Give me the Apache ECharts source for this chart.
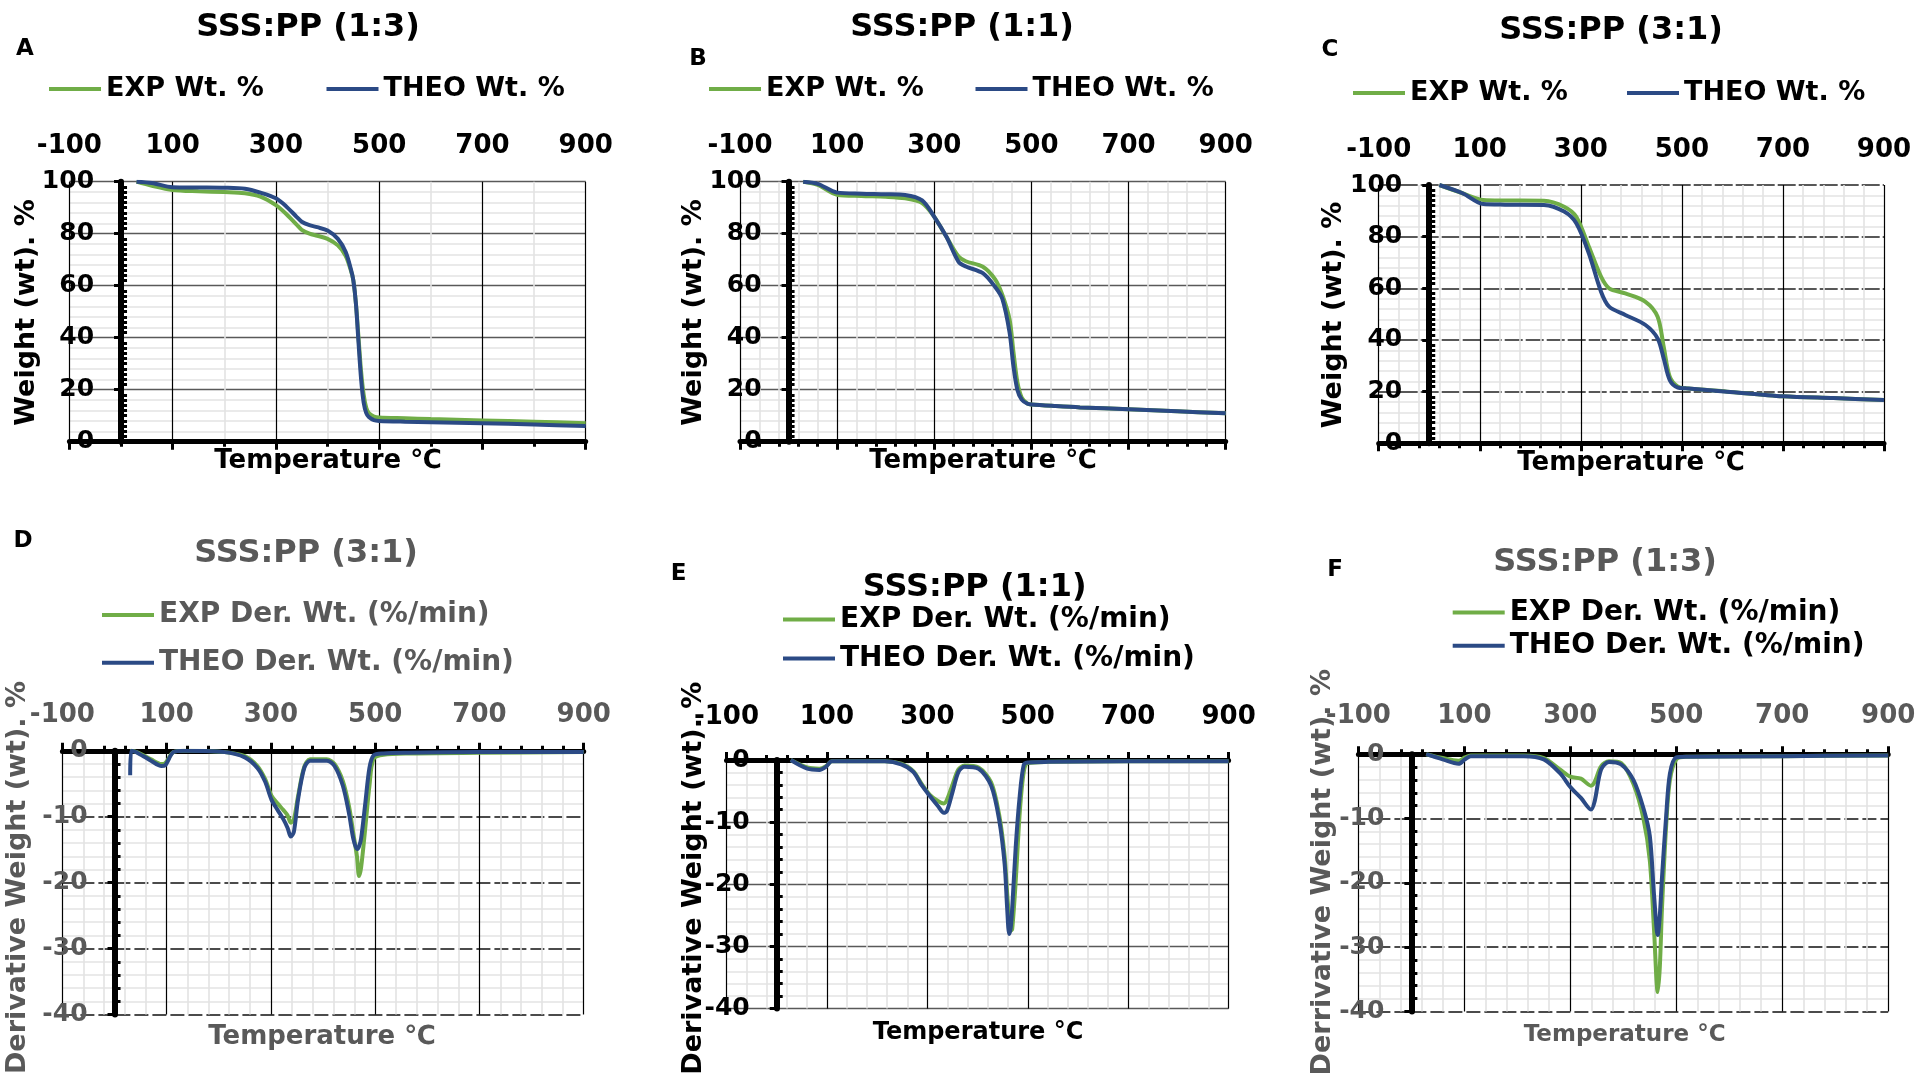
<!DOCTYPE html>
<html><head><meta charset="utf-8">
<script src="https://cdn.jsdelivr.net/npm/echarts@6/dist/echarts.min.js"></script>
<style>html,body{margin:0;padding:0;background:#fff}#c{width:1917px;height:1075px}</style>
</head><body><div id="c"></div><script>
// ---------- DATA ----------
const xTickLabels = [-100, 100, 300, 500, 700, 900];

// A: TGA SSS:PP (1:3)
const tempA = [30, 60, 100, 150, 200, 240, 270, 300, 320, 340, 350, 365, 380, 400, 420, 435, 445, 450, 455, 460, 465, 470, 475, 480, 490, 500, 550, 600, 700, 800, 900];
const expA  = [100, 98.4, 96.8, 96.3, 96.0, 95.6, 94.3, 91.0, 87.6, 83.5, 81.5, 80.0, 79.2, 78.0, 75.5, 71.5, 66.0, 62.0, 53.0, 40.0, 27.0, 18.0, 13.0, 11.0, 9.7, 9.3, 9.0, 8.7, 8.2, 7.7, 7.1];
const theoA = [100, 99.5, 97.9, 97.8, 97.7, 97.3, 95.8, 93.6, 90.5, 86.5, 84.6, 83.3, 82.5, 81.2, 78.0, 73.0, 66.5, 62.0, 53.0, 38.0, 24.0, 15.0, 11.0, 9.5, 8.3, 8.0, 7.7, 7.5, 7.1, 6.6, 6.0];

// B: TGA SSS:PP (1:1)
const tempB = [30, 60, 100, 150, 200, 240, 275, 300, 325, 350, 365, 400, 425, 440, 455, 463, 471, 480, 492, 500, 550, 600, 700, 800, 900];
const expB  = [100, 98.8, 95.0, 94.5, 94.2, 93.6, 91.8, 86.5, 78.8, 71.2, 69.4, 67.3, 62.5, 56.5, 47.0, 34.5, 23.0, 17.0, 14.6, 14.3, 13.7, 13.2, 12.5, 11.7, 10.9];
const theoB = [100, 99.2, 95.8, 95.4, 95.2, 94.9, 92.8, 86.5, 78.8, 69.2, 67.4, 64.8, 59.6, 55.0, 42.0, 29.0, 20.0, 16.2, 14.6, 14.3, 13.7, 13.2, 12.5, 11.7, 10.9];

// C: TGA SSS:PP (3:1)
const tempC = [20, 66, 107, 150, 227, 267, 291, 316, 340, 356, 388, 428, 452, 464, 476, 492, 508, 589, 700, 800, 900];
const expC  = [100, 96.8, 94.2, 94.0, 93.9, 91.6, 87.7, 76.1, 64.5, 60.0, 58.0, 54.8, 49.0, 37.4, 25.8, 21.9, 21.3, 20.0, 18.2, 17.5, 16.8];
const theoC = [100, 96.8, 92.6, 92.4, 92.3, 89.7, 85.2, 73.5, 58.7, 52.9, 49.7, 45.8, 40.6, 32.9, 24.5, 21.6, 21.3, 20.0, 18.2, 17.5, 16.8];

// D: DTG SSS:PP (3:1)
const tempD = [30, 32, 46, 70, 90, 97, 113, 133, 211, 250, 274, 289, 301, 313, 324, 332, 338, 344, 352, 364, 375, 407, 422, 438, 450, 458, 465, 469, 473, 481, 489, 497, 516, 563, 700, 900];
const expD  = [0, 0, -0.3, -1.3, -2.0, -1.9, -0.2, 0, -0.2, -0.8, -2.3, -4.3, -6.8, -8.0, -9.0, -9.8, -10.9, -10.4, -6.9, -2.4, -1.3, -1.3, -2.0, -4.6, -8.5, -12.5, -16.0, -19.0, -17.7, -11.7, -5.3, -1.2, -0.6, -0.4, -0.3, -0.2];
const theoD = [-3.7, 0, -0.4, -1.5, -2.3, -2.2, -0.2, 0, -0.2, -1.0, -2.6, -4.7, -7.4, -9.0, -10.4, -11.7, -13.0, -12.3, -7.4, -2.6, -1.5, -1.5, -2.3, -5.3, -9.6, -13.3, -14.9, -14.5, -13.3, -8.0, -2.6, -0.7, -0.4, -0.3, -0.2, -0.2];

// E: DTG SSS:PP (1:1)
const tempE = [28, 61, 85, 98, 110, 215, 248, 272, 289, 305, 321, 333, 339, 350, 362, 374, 402, 427, 443, 454, 459, 463, 466, 469, 476, 484, 492, 500, 541, 700, 900];
const expE  = [0, -1.2, -1.4, -1.0, -0.2, -0.2, -0.6, -1.8, -3.9, -5.6, -6.6, -7.0, -6.4, -4.0, -1.5, -0.9, -1.2, -3.6, -8.8, -15.5, -21.5, -25.5, -27.5, -27.2, -19.5, -8.5, -1.9, -0.5, -0.3, -0.2, -0.2];
const theoE = [0, -1.4, -1.6, -1.1, -0.2, -0.2, -0.7, -1.9, -4.1, -5.8, -7.4, -8.5, -8.2, -5.2, -1.9, -1.1, -1.4, -4.1, -9.6, -16.8, -23.9, -28.0, -27.0, -23.9, -14.0, -5.8, -0.8, -0.4, -0.3, -0.2, -0.2];

// F: DTG SSS:PP (1:3)
const tempF = [28, 59, 89, 101, 112, 212, 250, 281, 300, 320, 339, 346, 358, 373, 396, 419, 438, 450, 458, 465, 469, 473, 481, 488, 500, 519, 700, 900];
const expF  = [0, -0.6, -1.0, -0.5, -0.2, -0.2, -0.6, -2.4, -3.5, -3.8, -4.9, -4.3, -1.9, -1.1, -1.4, -4.6, -10.0, -16.5, -27.3, -37.0, -33.0, -24.0, -11.0, -4.0, -0.8, -0.4, -0.3, -0.2];
const theoF = [0, -0.8, -1.5, -0.8, -0.3, -0.3, -0.8, -3.0, -5.1, -6.8, -8.6, -7.3, -2.4, -1.2, -1.6, -4.0, -8.4, -12.7, -21.9, -28.1, -25.0, -19.2, -9.5, -3.0, -0.5, -0.4, -0.3, -0.2];

const seriesNamesWt  = ['EXP Wt. %', 'THEO Wt. %'];
const seriesNamesDer = ['EXP Der. Wt. (%/min)', 'THEO Der. Wt. (%/min)'];

// ---------- LAYOUT / STYLE ----------
const FF = '"DejaVu Sans", Verdana, sans-serif';
const GREEN = '#70AD47', BLUE = '#2B4A85', GRAY = '#595959';
const font = s => `bold ${s}px ${FF}`;
const X_MIN = xTickLabels[0], X_MAX = xTickLabels[xTickLabels.length - 1];

const panels = [
  {T: tempA, E: expA, H: theoA, kind: 'wt', title: 'SSS:PP (1:3)', letter: 'A',
   grid: {left: 69.4, top: 181.7, width: 516.3, height: 260}, labMargin: 22.7, xMinor: 2, xTickMinor: 2, linePos: 'bottom',
   hLine: {color: '#595959', width: 1.3, type: 'solid'}, tickC: '#000', titleC: '#000', legC: '#000',
   titleXY: [308, 28], letterXY: [25, 49], leg: [[49, 75.5], [326.5, 75.5]], legFont: 27,
   yT: {x: 26.5, y: 312.5, align: 'center', text: 'Weight (wt). %', c: '#000'},
   xT: {x: 328, y: 461, text: 'Temperature ℃', size: 26, c: '#000'}},
  {T: tempB, E: expB, H: theoB, kind: 'wt', title: 'SSS:PP (1:1)', letter: 'B',
   grid: {left: 740, top: 181.7, width: 485.7, height: 260}, labMargin: 22.7, xMinor: 5, xTickMinor: 5, linePos: 'bottom',
   hLine: {color: '#595959', width: 1.3, type: 'solid'}, tickC: '#000', titleC: '#000', legC: '#000',
   titleXY: [962, 28], letterXY: [698, 59], leg: [[709, 75.5], [975.5, 75.5]], legFont: 27,
   yT: {x: 694, y: 312.5, align: 'center', text: 'Weight (wt). %', c: '#000'},
   xT: {x: 983, y: 461, text: 'Temperature ℃', size: 26, c: '#000'}},
  {T: tempC, E: expC, H: theoC, kind: 'wt', title: 'SSS:PP (3:1)', letter: 'C',
   grid: {left: 1378.7, top: 185, width: 505.3, height: 258.3}, labMargin: 22, xMinor: 5, xTickMinor: 5, linePos: 'bottom',
   hLine: {color: '#222', width: 1.5, type: [18, 3]}, tickC: '#000', titleC: '#000', legC: '#000',
   titleXY: [1611, 31], letterXY: [1330, 50], leg: [[1353, 79.5], [1627, 79.5]], legFont: 27,
   yT: {x: 1334, y: 315, align: 'center', text: 'Weight (wt). %', c: '#000'},
   xT: {x: 1631, y: 463, text: 'Temperature ℃', size: 26, c: '#000'}},
  {T: tempD, E: expD, H: theoD, kind: 'der', title: 'SSS:PP (3:1)', letter: 'D',
   grid: {left: 62.4, top: 750.8, width: 521.3, height: 263.7}, labMargin: 23, xMinor: 5, xTickMinor: 5, linePos: 'top',
   hLine: {color: '#111', width: 1.5, type: [14, 4]}, tickC: GRAY, titleC: GRAY, legC: GRAY,
   titleXY: [306, 553.6], letterXY: [23, 541], leg: [[102, 601], [102, 648.7]], legFont: 28,
   yT: {x: 18, y: 681, align: 'right', text: 'Derivative Weight (wt). %', c: GRAY},
   xT: {x: 322, y: 1037, text: 'Temperature ℃', size: 26, c: GRAY}},
  {T: tempE, E: expE, H: theoE, kind: 'der', title: 'SSS:PP (1:1)', letter: 'E',
   grid: {left: 726.5, top: 760, width: 502.1, height: 248.6}, labMargin: 29.5, xMinor: 5, xTickMinor: 5, linePos: 'top',
   hLine: {color: '#595959', width: 1.3, type: 'solid'}, tickC: '#000', titleC: '#000', legC: '#000',
   titleXY: [974.7, 587.8], letterXY: [678.5, 574], leg: [[783, 605.5], [783, 644.4]], legFont: 28,
   yT: {x: 694, y: 681.6, align: 'right', text: 'Derivative Weight (wt). %', c: '#000'},
   xT: {x: 978, y: 1033, text: 'Temperature °C', size: 24, c: '#000'}},
  {T: tempF, E: expF, H: theoF, kind: 'der', title: 'SSS:PP (1:3)', letter: 'F',
   grid: {left: 1358.4, top: 754.2, width: 529.8, height: 257.2}, labMargin: 25, xMinor: 5, xTickMinor: 5, linePos: 'top',
   hLine: {color: '#111', width: 1.5, type: [14, 4]}, tickC: GRAY, titleC: GRAY, legC: '#000',
   titleXY: [1605, 563], letterXY: [1335, 570], leg: [[1452.7, 598.4], [1452.7, 631.7]], legFont: 28,
   yT: {x: 1322.5, y: 669, align: 'right', text: 'Derrivative Weight (wt). %', c: GRAY},
   xT: {x: 1624.6, y: 1035, text: 'Temperature °C', size: 23, c: GRAY}}
];

const zip = (a, b) => a.map((v, i) => [v, b[i]]);
const grids = [], xAxes = [], yAxes = [], series = [], legends = [], graphics = [];
const txt = (x, y, text, size, color, rot, align) => graphics.push({
  type: 'text', x, y, rotation: rot || 0, silent: true,
  style: {text, font: font(size), fill: color, align: align || 'center', verticalAlign: 'middle'}
});

panels.forEach((p, i) => {
  const wt = p.kind === 'wt';
  const names = wt ? seriesNamesWt : seriesNamesDer;
  const ymin = wt ? 0 : -40, ymax = wt ? 100 : 0, yint = wt ? 20 : 10;
  // y axis sits at temperature 0: shift it inward from the grid's left edge
  const yOffset = -p.grid.width * (0 - X_MIN) / (X_MAX - X_MIN);
  grids.push(Object.assign({containLabel: false, outerBoundsMode: 'none'}, p.grid));
  // label axis (top), carries vertical gridlines
  xAxes.push({gridIndex: i, type: 'value', min: X_MIN, max: X_MAX, interval: 200, position: 'top',
    axisLine: {show: false, onZero: false}, axisTick: {show: false},
    axisLabel: {show: true, margin: p.labMargin, fontSize: 26, fontWeight: 'bold', fontFamily: FF, color: p.tickC},
    splitLine: {show: true, lineStyle: {color: '#000', width: 1.2}},
    minorTick: {show: false, splitNumber: p.xMinor},
    minorSplitLine: {show: true, lineStyle: {color: '#e3e3e3', width: 1.6}}});
  // thick axis line on weight = 0
  xAxes.push({gridIndex: i, type: 'value', min: X_MIN, max: X_MAX, interval: 200, position: p.linePos,
    axisLine: {show: true, onZero: false, lineStyle: {color: '#000', width: 5}},
    axisTick: {show: true, length: 8, lineStyle: {color: '#000', width: 3}},
    minorTick: {show: true, splitNumber: p.xTickMinor, length: 5, lineStyle: {color: '#000', width: 3}},
    axisLabel: {show: false}, splitLine: {show: false}});
  // main y axis at temperature = 0
  yAxes.push({gridIndex: i, type: 'value', min: ymin, max: ymax, interval: yint, position: 'left', offset: yOffset,
    axisLine: {show: true, onZero: false, lineStyle: {color: '#000', width: 6}},
    axisTick: {show: true, length: 7, lineStyle: {color: '#000', width: 3}},
    axisLabel: {margin: 27, fontSize: 25, fontWeight: 'bold', fontFamily: FF, color: p.tickC},
    splitLine: {show: true, lineStyle: p.hLine},
    minorTick: {show: false, splitNumber: 5},
    minorSplitLine: {show: true, lineStyle: {color: '#e3e3e3', width: 1.6}}});
  // minor inward ticks on y axis
  yAxes.push({gridIndex: i, type: 'value', min: ymin, max: ymax, interval: yint, position: 'left', offset: yOffset,
    axisLine: {show: false, onZero: false},
    axisTick: {show: false, inside: true},
    minorTick: {show: true, splitNumber: wt ? 10 : 5, length: 6, lineStyle: {color: '#000', width: 3}},
    axisLabel: {show: false}, splitLine: {show: false}});

  [[names[0], p.E, GREEN], [names[1], p.H, BLUE]].forEach(([nm, vals, col], k) => {
    series.push({type: 'line', name: nm, xAxisIndex: 2 * i, yAxisIndex: 2 * i, data: zip(p.T, vals),
      symbol: 'none', smooth: 0.3, z: 3 + k, lineStyle: {width: 4, color: col}, itemStyle: {color: col}});
    legends.push({data: [{name: nm, icon: 'rect'}], left: p.leg[k][0], top: p.leg[k][1], padding: 0,
      itemWidth: 52, itemHeight: 4, selectedMode: false,
      textStyle: {fontFamily: FF, fontWeight: 'bold', fontSize: p.legFont, color: p.legC}});
  });

  txt(p.titleXY[0], p.titleXY[1], p.title, 32, p.titleC);
  txt(p.letterXY[0], p.letterXY[1], p.letter, 23, '#000');
  txt(p.yT.x, p.yT.y, p.yT.text, 27, p.yT.c, Math.PI / 2, p.yT.align);
  txt(p.xT.x, p.xT.y, p.xT.text, p.xT.size, p.xT.c);
});

const chart = echarts.init(document.getElementById('c'), null, {renderer: 'canvas'});
chart.setOption({
  animation: false,
  backgroundColor: '#fff',
  grid: grids, xAxis: xAxes, yAxis: yAxes, series, legend: legends, graphic: graphics
});
</script></body></html>
